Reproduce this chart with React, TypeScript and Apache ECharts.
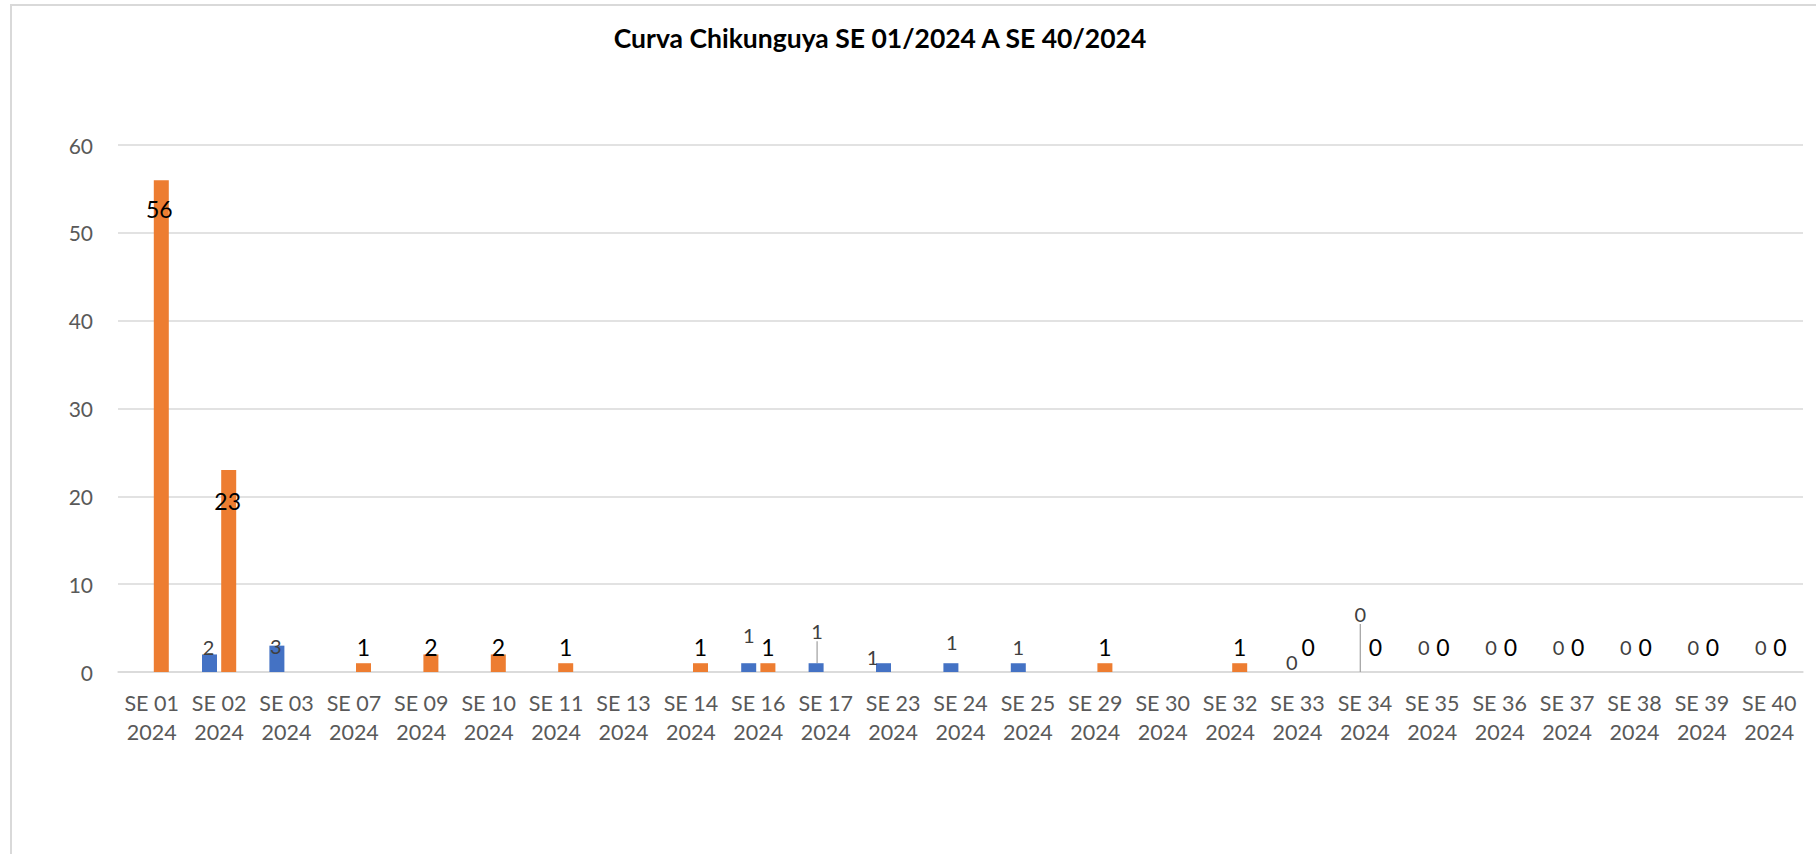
import React, { useEffect, useRef } from 'react';
import * as echarts from 'echarts';

const TITLE = 'Curva Chikunguya SE 01/2024 A SE 40/2024';
const YEAR = '2024';

const weeks = [
  'SE 01', 'SE 02', 'SE 03', 'SE 07', 'SE 09', 'SE 10', 'SE 11', 'SE 13', 'SE 14', 'SE 16',
  'SE 17', 'SE 23', 'SE 24', 'SE 25', 'SE 29', 'SE 30', 'SE 32', 'SE 33', 'SE 34', 'SE 35',
  'SE 36', 'SE 37', 'SE 38', 'SE 39', 'SE 40',
];

// blue series
const serie1: (number | null)[] = [
  null, 2, 3, null, null, null, null, null, null, 1,
  1, 1, 1, 1, null, null, null, 0, 0, 0,
  0, 0, 0, 0, 0,
];

// orange series
const serie2: (number | null)[] = [
  56, 23, null, 1, 2, 2, 1, null, 1, 1,
  null, null, null, null, 1, null, 1, 0, 0, 0,
  0, 0, 0, 0, 0,
];

const yMin = 0;
const yMax = 60;
const yStep = 10;

// label nudges (dx, dy) relative to the default "top" label position
const serie1LabelShift: ([number, number] | null)[] = [
  null, [-1, 3], [-1, 10], null, null, null, null, null, null, [0, -18],
  [1, -22], [-11, 4], [1, -11], [0, -6], null, null, null, [4, 0], [5, -48], [1, -15],
  [1, -15], [1, -15], [1, -15], [1, -15], [1, -15],
];
const serie2LabelShift: ([number, number] | null)[] = [
  [-2, 40], [-1, 43], null, [0, -5], [0, 4], [0, 4], [0, -5], null, [0, -5], [0, -5],
  null, null, null, null, [0, -5], null, [0, -5], [1, -14], [1, -14], [1, -14],
  [1, -14], [1, -14], [1, -14], [1, -14], [1, -14],
];
const serie1LeaderIdx = [10, 18];

const FONT = 'Lato, "Open Sans", sans-serif';

export default function App() {
  const ref = useRef<HTMLDivElement>(null);

  useEffect(() => {
    if (!ref.current) return;
    const chart = echarts.init(ref.current, undefined, { renderer: 'svg' });

    const blueData = serie1.map((v, i) =>
      serie1LeaderIdx.includes(i)
        ? { value: v, labelLine: { show: true, lineStyle: { color: '#a6a6a6', width: 1.3 } } }
        : { value: v }
    );

    chart.setOption({
      animation: false,
      backgroundColor: '#ffffff',
      textStyle: { fontFamily: FONT },
      title: {
        text: TITLE,
        left: 880,
        top: 22,
        textAlign: 'center',
        padding: 0,
        textStyle: {
          fontFamily: FONT,
          fontWeight: 'bold',
          fontSize: 26.5,
          lineHeight: 32,
          color: '#000000',
        },
      },
      graphic: [
        {
          type: 'rect',
          shape: { x: 11, y: 5, width: 2000, height: 1000 },
          style: { fill: 'none', stroke: '#d9d9d9', lineWidth: 2 },
          silent: true,
        },
      ],
      grid: { left: 118, right: 13, top: 145, bottom: 182, containLabel: false },
      xAxis: {
        type: 'category',
        data: weeks,
        axisLine: { show: true, lineStyle: { color: '#d9d9d9', width: 1.5 } },
        axisTick: { show: false },
        axisLabel: {
          interval: 0,
          margin: 16,
          color: '#595959',
          fontFamily: FONT,
          fontSize: 21.5,
          lineHeight: 29,
          formatter: (v: string) => `${v}\n${YEAR}`,
        },
      },
      yAxis: {
        type: 'value',
        min: yMin,
        max: yMax,
        interval: yStep,
        axisLine: { show: false },
        axisTick: { show: false },
        splitLine: { lineStyle: { color: '#d9d9d9', width: 1.5 } },
        axisLabel: {
          margin: 25,
          color: '#595959',
          fontFamily: FONT,
          fontSize: 21,
        },
      },
      series: [
        {
          name: 'Serie1',
          type: 'bar',
          data: blueData,
          barWidth: 15,
          barGap: '28%',
          itemStyle: { color: '#4472C4' },
          label: {
            show: true,
            position: 'top',
            distance: 0,
            color: '#404040',
            fontFamily: FONT,
            fontSize: 20,
            lineHeight: 20,
          },
          labelLayout: (p: any) => {
            const o = serie1LabelShift[p.dataIndex];
            return o ? { dx: o[0], dy: o[1] } : {};
          },
        },
        {
          name: 'Serie2',
          type: 'bar',
          data: serie2,
          barWidth: 15,
          barGap: '28%',
          itemStyle: { color: '#ED7D31' },
          label: {
            show: true,
            position: 'top',
            distance: 0,
            color: '#000000',
            fontFamily: FONT,
            fontSize: 23,
            lineHeight: 23,
          },
          labelLayout: (p: any) => {
            const o = serie2LabelShift[p.dataIndex];
            return o ? { dx: o[0], dy: o[1] } : {};
          },
        },
      ],
    });

    return () => chart.dispose();
  }, []);

  return (
    <div
      ref={ref}
      style={{ position: 'fixed', left: 0, top: 0, width: 1816, height: 854, background: '#fff' }}
    />
  );
}
